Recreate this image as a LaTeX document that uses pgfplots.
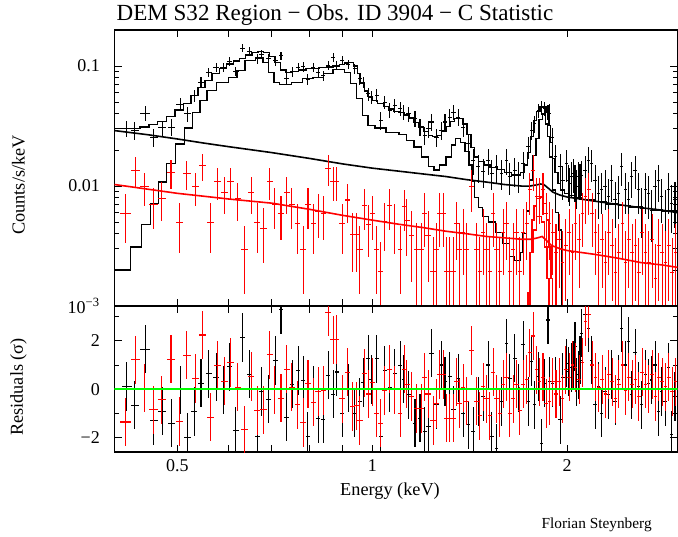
\documentclass[border=0pt]{standalone}
\usepackage{pgfplots}
\pgfplotsset{compat=1.18}
\usepackage{pgfplotstable}
\usepackage{fontspec}
\setmainfont{Liberation Serif}
\definecolor{resgreen}{RGB}{0,255,0}

\pgfplotstableread{
E dE V e R
0.418 0.0075 0.0303 0.0048 0.11
0.430 0.0065 0.0292 0.0050 -0.66
0.446 0.0075 0.0406 0.0055 1.65
0.460 0.0065 0.0256 0.0045 -1.31
0.474 0.0065 0.0307 0.0045 -0.91
0.490 0.0065 0.0310 0.0050 -1.41
0.505 0.0065 0.0480 0.0060 -0.03
0.519 0.0060 0.0400 0.0060 -2.00
0.531 0.0060 0.0570 0.0065 -0.92
0.544 0.0060 0.0734 0.0075 0.25
0.559 0.0060 0.0890 0.0080 0.63
0.574 0.0060 0.0970 0.0085 0.49
0.589 0.0060 0.0980 0.0085 -0.03
0.602 0.0060 0.1100 0.0090 0.92
0.616 0.0060 0.0906 0.0085 -1.72
0.630 0.0060 0.1410 0.0110 2.13
0.647 0.0060 0.1330 0.0105 0.62
0.665 0.0060 0.1150 0.0100 -1.96
0.675 0.0060 0.1260 0.0100 -0.10
0.691 0.0060 0.1150 0.0100 -0.41
0.709 0.0060 0.1110 0.0100 1.18
0.723 0.0060 0.1220 0.0100 3.28
0.738 0.0060 0.0783 0.0085 -1.16
0.752 0.0060 0.0900 0.0090 0.20
0.769 0.0060 0.0977 0.0090 0.77
0.782 0.0060 0.0990 0.0090 0.37
0.795 0.0060 0.0780 0.0085 -1.96
0.811 0.0060 0.0977 0.0090 -0.03
0.825 0.0060 0.0889 0.0085 -1.23
0.840 0.0060 0.0834 0.0085 -1.24
0.855 0.0060 0.1010 0.0090 0.58
0.871 0.0060 0.1180 0.0100 -0.21
0.881 0.0060 0.1010 0.0090 0.71
0.899 0.0060 0.1110 0.0095 -0.99
0.918 0.0060 0.1040 0.0090 0.04
0.940 0.0060 0.0948 0.0090 -0.99
0.957 0.0060 0.0783 0.0085 -0.52
0.968 0.0060 0.0734 0.0080 0.27
0.986 0.0070 0.0588 0.0075 1.25
0.997 0.0070 0.0551 0.0070 0.40
1.016 0.0070 0.0570 0.0070 1.25
1.031 0.0070 0.0353 0.0060 -1.96
1.046 0.0070 0.0501 0.0065 0.77
1.064 0.0070 0.0428 0.0060 0.05
1.084 0.0070 0.0470 0.0065 0.66
1.104 0.0070 0.0441 0.0060 0.98
1.117 0.0070 0.0414 0.0060 0.41
1.137 0.0100 0.0400 0.0060 -0.23
1.164 0.0100 0.0364 0.0055 -1.41
1.185 0.0100 0.0310 0.0050 -1.20
1.206 0.0100 0.0265 0.0045 -1.75
1.222 0.0100 0.0300 0.0050 -1.54
1.235 0.0100 0.0342 0.0055 1.49
1.257 0.0100 0.0256 0.0045 -0.65
1.280 0.0100 0.0291 0.0050 1.00
1.295 0.0100 0.0342 0.0055 0.32
1.318 0.0100 0.0376 0.0060 0.52
1.335 0.0100 0.0414 0.0060 -0.85
1.358 0.0100 0.0376 0.0060 0.45
1.382 0.0100 0.0310 0.0055 -0.99
1.407 0.0100 0.0226 0.0045 -1.47
1.432 0.0100 0.0164 0.0040 -1.75
1.458 0.0100 0.0145 0.0038 -0.51
1.484 0.0100 0.0132 0.0036 -0.30
1.510 0.0100 0.0164 0.0040 1.00
1.530 0.0100 0.0128 0.0036 -1.96
1.556 0.0100 0.0145 0.0038 -2.44
1.584 0.0100 0.0128 0.0036 -0.51
1.612 0.0100 0.0164 0.0040 1.90
1.631 0.0100 0.0120 0.0035 0.45
1.660 0.0100 0.0136 0.0037 1.28
1.680 0.0100 0.0124 0.0036 0.04
1.710 0.0100 0.0154 0.0040 1.83
1.740 0.0100 0.0212 0.0045 -0.51
1.760 0.0100 0.0291 0.0050 1.14
1.783 0.0100 0.0331 0.0055 -0.65
1.806 0.0100 0.0427 0.0060 0.52
1.826 0.0100 0.0455 0.0060 -2.23
1.847 0.0100 0.0441 0.0060 0.25
1.868 0.0100 0.0414 0.0060 2.86
1.881 0.0100 0.0400 0.0080 0.32
1.900 0.0100 0.0256 0.0050 0.25
1.920 0.0100 0.0175 0.0045 0.32
1.950 0.0110 0.0145 0.0040 -1.27
1.970 0.0110 0.0112 0.0035 0.50
1.996 0.0120 0.0154 0.0045 1.07
2.008 0.0120 0.0112 0.0038 0.73
2.018 0.0120 0.0105 0.0037 0.50
2.032 0.0120 0.0120 0.0040 0.90
2.044 0.0120 0.0128 0.0040 1.00
2.056 0.0120 0.0112 0.0038 1.76
2.068 0.0120 0.0100 0.0036 0.30
2.081 0.0120 0.0120 0.0040 0.59
2.093 0.0120 0.0115 0.0039 1.20
2.106 0.0130 0.0123 0.0040 2.31
2.131 0.0130 0.0136 0.0042 3.07
2.156 0.0130 0.0164 0.0046 2.52
2.182 0.0130 0.0154 0.0045 1.20
2.208 0.0130 0.0112 0.0038 -0.65
2.234 0.0130 0.0087 0.0034 0.11
2.261 0.0130 0.0093 0.0035 -0.99
2.288 0.0130 0.0099 0.0036 -0.10
2.315 0.0140 0.0082 0.0033 -0.23
2.343 0.0140 0.0112 0.0038 0.60
2.371 0.0140 0.0077 0.0032 -0.50
2.399 0.0140 0.0087 0.0034 0.40
2.428 0.0140 0.0145 0.0044 2.52
2.457 0.0140 0.0093 0.0035 1.00
2.486 0.0140 0.0077 0.0032 1.97
2.516 0.0150 0.0120 0.0040 -0.23
2.546 0.0150 0.0136 0.0042 1.50
2.576 0.0150 0.0093 0.0035 0.11
2.607 0.0150 0.0067 0.0030 -0.65
2.638 0.0150 0.0093 0.0035 0.60
2.669 0.0150 0.0087 0.0034 0.25
2.701 0.0160 0.0063 0.0029 0.38
2.733 0.0160 0.0099 0.0036 1.00
2.766 0.0160 0.0112 0.0038 -0.92
2.799 0.0160 0.0082 0.0033 -0.10
2.832 0.0160 0.0063 0.0029 -0.51
2.866 0.0160 0.0093 0.0035 0.90
2.900 0.0170 0.0072 0.0031 -1.89
2.934 0.0170 0.0077 0.0032 -0.30
}\blackdata

\pgfplotstableread{
E dE V e R
0.416 0.0075 0.00593 0.0026 -1.36
0.431 0.0075 0.0136 0.0038 1.21
0.445 0.0075 0.00987 0.0031 0.04
0.460 0.0070 0.00697 0.0026 -0.85
0.4735 0.0070 0.00791 0.0028 -0.44
0.489 0.0070 0.0129 0.0035 1.24
0.504 0.0070 0.00497 0.0022 -1.34
0.5175 0.0070 0.0128 0.0035 1.40
0.533 0.0070 0.00987 0.0031 0.44
0.547 0.0070 0.0148 0.0038 2.24
0.562 0.0070 0.00497 0.0022 -1.16
0.577 0.0070 0.0109 0.0032 0.98
0.591 0.0070 0.0088 0.0030 0.33
0.604 0.0070 0.0109 0.0032 1.10
0.620 0.0070 0.0079 0.0028 0.08
0.635 0.0070 0.00295 0.0017 -1.68
0.650 0.0070 0.0088 0.0030 0.52
0.665 0.0070 0.00497 0.0022 -0.88
0.680 0.0080 0.0044 0.0021 -0.85
0.695 0.0080 0.0109 0.0032 1.42
0.7075 0.0080 0.00696 0.0026 -0.03
0.723 0.0080 0.00593 0.0024 -0.37
0.738 0.0080 0.00886 0.0030 0.83
0.751 0.0080 0.00696 0.0026 0.08
0.767 0.0080 0.0049 0.0022 -0.65
0.782 0.0080 0.00295 0.0017 -1.38
0.796 0.0080 0.00696 0.0026 0.22
0.811 0.0080 0.0049 0.0022 -0.54
0.825 0.0080 0.00612 0.0024 -0.10
0.840 0.0080 0.00593 0.0024 -0.06
0.855 0.0090 0.01406 0.0040 3.19
0.871 0.0090 0.0109 0.0034 2.04
0.881 0.0090 0.0109 0.0034 2.06
0.899 0.0090 0.0049 0.0022 -0.40
0.916 0.0090 0.00765 0.0027 0.70
0.933 0.0090 0.00393 0.0020 -0.72
0.946 0.0090 0.00393 0.0020 -0.69
0.957 0.0090 0.00295 0.0017 -1.30
0.972 0.0090 0.00687 0.0026 0.66
0.986 0.0090 0.00475 0.0022 -0.20
1.000 0.0090 0.00593 0.0024 0.29
1.016 0.0090 0.00295 0.0017 -0.99
1.031 0.0090 0.00194 0.0015 -1.41
1.044 0.0090 0.00506 0.0022 -0.06
1.062 0.0090 0.00687 0.0026 0.83
1.081 0.0090 0.0049 0.0022 -0.03
1.104 0.0090 0.00295 0.0017 -1.00
1.120 0.0090 0.00673 0.0025 0.83
1.130 0.0120 0.0052 0.0026 0.20
1.150 0.0120 0.0039 0.0023 -0.30
1.171 0.0120 0.00295 0.0020 -0.80
1.191 0.0120 0.00295 0.0020 -0.80
1.205 0.0120 0.0059 0.0028 0.50
1.220 0.0120 0.0039 0.0023 -0.20
1.242 0.0120 0.00194 0.0018 -1.30
1.257 0.0120 0.00295 0.0020 -0.60
1.272 0.0120 0.0059 0.0028 0.60
1.287 0.0120 0.0059 0.0028 0.60
1.302 0.0120 0.00194 0.0018 -1.20
1.318 0.0120 0.00194 0.0018 -1.20
1.333 0.0120 0.00194 0.0018 -1.20
1.349 0.0120 0.0049 0.0025 0.30
1.365 0.0120 0.00295 0.0020 -0.60
1.381 0.0120 0.0041 0.0023 0.05
1.398 0.0120 0.00295 0.0020 -0.50
1.423 0.0120 0.0099 0.0038 1.60
1.448 0.0120 0.00295 0.0020 -0.50
1.466 0.0120 0.00194 0.0018 -1.10
1.483 0.0120 0.0041 0.0023 0.10
1.501 0.0120 0.00295 0.0020 -0.40
1.519 0.0120 0.00194 0.0018 -1.10
1.537 0.0120 0.0059 0.0028 0.70
1.556 0.0120 0.00295 0.0020 -0.40
1.574 0.0120 0.00194 0.0018 -1.00
1.593 0.0120 0.0041 0.0023 0.20
1.612 0.0120 0.0049 0.0025 0.50
1.631 0.0120 0.00194 0.0018 -1.00
1.651 0.0120 0.00295 0.0020 -0.40
1.670 0.0120 0.0041 0.0023 0.20
1.690 0.0120 0.00194 0.0018 -0.90
1.710 0.0120 0.0041 0.0023 0.20
1.731 0.0120 0.0049 0.0025 0.40
1.751 0.0120 0.0093 0.0036 1.50
1.772 0.0120 0.0136 0.0045 2.20
1.793 0.0120 0.0082 0.0034 0.80
1.813 0.0120 0.0082 0.0034 0.30
1.835 0.0120 0.0093 0.0036 0.50
1.856 0.0120 0.0059 0.0028 -0.60
1.878 0.0120 0.0049 0.0025 -0.50
1.900 0.0120 0.0041 0.0023 0.30
1.922 0.0120 0.0028 0.0020 -0.20
1.944 0.0130 0.0036 0.0022 0.30
1.967 0.0130 0.0023 0.0019 -0.40
1.990 0.0130 0.0032 0.0021 0.80
2.013 0.0130 0.0041 0.0023 0.50
2.037 0.0130 0.0028 0.0020 1.00
2.061 0.0130 0.0049 0.0025 0.90
2.086 0.0130 0.0036 0.0022 0.40
2.110 0.0130 0.0059 0.0028 1.10
2.135 0.0140 0.0082 0.0034 2.80
2.160 0.0140 0.0093 0.0036 3.10
2.186 0.0140 0.0059 0.0028 1.00
2.212 0.0140 0.0041 0.0023 0.50
2.238 0.0140 0.0028 0.0020 0.05
2.265 0.0140 0.0036 0.0022 0.40
2.292 0.0140 0.0023 0.0019 -0.20
2.319 0.0150 0.0041 0.0023 0.60
2.347 0.0150 0.0032 0.0021 0.30
2.375 0.0150 0.0019 0.0018 -0.40
2.403 0.0150 0.0028 0.0020 0.20
2.432 0.0150 0.0049 0.0025 1.00
2.461 0.0150 0.0023 0.0019 -0.05
2.490 0.0160 0.0036 0.0022 0.50
2.520 0.0160 0.0028 0.0020 0.20
2.550 0.0160 0.0032 0.0021 0.40
2.580 0.0160 0.0019 0.0018 -0.30
2.611 0.0170 0.0041 0.0023 0.70
2.642 0.0170 0.0028 0.0020 0.20
2.673 0.0170 0.0023 0.0019 0.00
2.705 0.0170 0.0036 0.0022 0.60
2.737 0.0170 0.0017 0.0016 -0.30
2.770 0.0180 0.0032 0.0021 0.50
2.803 0.0180 0.0028 0.0020 0.30
2.836 0.0180 0.0023 0.0019 0.10
2.870 0.0180 0.0032 0.0021 0.50
2.904 0.0180 0.0019 0.0018 -0.10
2.939 0.0180 0.0028 0.0020 0.30
}\reddata

\pgfplotstableread{
E V
0.400 0.0300
0.422 0.0300
0.438 0.0310
0.452 0.0325
0.466 0.0345
0.481 0.0380
0.496 0.0430
0.511 0.0490
0.525 0.0570
0.538 0.0660
0.552 0.0760
0.566 0.0870
0.581 0.0960
0.596 0.1040
0.610 0.1100
0.624 0.1160
0.638 0.1240
0.652 0.1300
0.666 0.1330
0.680 0.1300
0.694 0.1210
0.708 0.1070
0.722 0.0930
0.736 0.0880
0.752 0.0900
0.770 0.0930
0.790 0.0950
0.810 0.0960
0.830 0.0970
0.850 0.0980
0.870 0.1000
0.890 0.1030
0.905 0.1060
0.920 0.1070
0.935 0.1000
0.948 0.0870
0.960 0.0720
0.972 0.0620
0.985 0.0560
1.000 0.0520
1.020 0.0490
1.040 0.0460
1.060 0.0440
1.080 0.0420
1.100 0.0410
1.120 0.0390
1.140 0.0370
1.160 0.0340
1.180 0.0310
1.200 0.0285
1.220 0.0265
1.240 0.0258
1.260 0.0265
1.280 0.0285
1.300 0.0315
1.320 0.0345
1.340 0.0365
1.360 0.0365
1.380 0.0330
1.400 0.0270
1.420 0.0210
1.440 0.0175
1.460 0.0160
1.490 0.0150
1.520 0.0143
1.560 0.0137
1.600 0.0130
1.640 0.0124
1.670 0.0123
1.695 0.0130
1.715 0.0150
1.735 0.0190
1.755 0.0260
1.775 0.0350
1.795 0.0420
1.815 0.0455
1.835 0.0455
1.855 0.0410
1.870 0.0320
1.885 0.0230
1.900 0.0170
1.915 0.0130
1.935 0.0105
1.955 0.0093
1.980 0.0087
2.010 0.0083
2.050 0.0080
2.100 0.0077
2.200 0.0074
2.300 0.0071
2.400 0.0069
2.500 0.0067
2.600 0.0065
2.700 0.0063
2.800 0.0062
2.960 0.0060
}\modelA

\pgfplotstableread{
E V
0.400 0.0020
0.423 0.0031
0.440 0.0048
0.455 0.0072
0.468 0.0108
0.481 0.0155
0.497 0.0224
0.513 0.0304
0.528 0.0410
0.542 0.0520
0.556 0.0627
0.575 0.0730
0.600 0.0800
0.618 0.0920
0.636 0.1110
0.660 0.1170
0.678 0.1070
0.692 0.0880
0.705 0.0730
0.720 0.0705
0.750 0.0730
0.780 0.0790
0.810 0.0800
0.840 0.0866
0.870 0.0935
0.890 0.0935
0.905 0.0880
0.925 0.0717
0.945 0.0537
0.965 0.0389
0.985 0.0321
1.010 0.0304
1.050 0.0280
1.100 0.0270
1.130 0.0240
1.160 0.0212
1.190 0.0175
1.220 0.0145
1.245 0.0136
1.270 0.0150
1.300 0.0175
1.325 0.0220
1.345 0.0249
1.370 0.0230
1.390 0.0193
1.410 0.0150
1.425 0.0110
1.440 0.0080
1.460 0.0066
1.480 0.0056
1.510 0.0050
1.550 0.0041
1.590 0.0033
1.630 0.0026
1.660 0.0024
1.690 0.0028
1.710 0.0040
1.730 0.0062
1.750 0.0112
1.770 0.0180
1.790 0.0249
1.810 0.0360
1.830 0.0400
1.850 0.0330
1.865 0.0260
1.880 0.0175
1.900 0.0093
1.920 0.0060
1.940 0.0043
1.960 0.0001
2.960 0.0001
}\modelB

\pgfplotstableread{
E V
0.400 0.0290
0.450 0.0268
0.500 0.0247
0.550 0.0228
0.600 0.0213
0.700 0.0190
0.800 0.0170
0.900 0.0153
1.000 0.0141
1.100 0.0133
1.200 0.0126
1.300 0.0120
1.400 0.0113
1.500 0.0108
1.600 0.0103
1.700 0.0100
1.750 0.0100
1.790 0.0102
1.820 0.0104
1.840 0.0103
1.870 0.0096
1.900 0.0089
1.950 0.0084
2.000 0.0081
2.200 0.0075
2.400 0.0070
2.600 0.0066
2.800 0.0063
2.960 0.0060
}\bgblack

\pgfplotstableread{
E V
0.400 0.0103
0.500 0.0087
0.600 0.0078
0.700 0.0072
0.800 0.0064
0.900 0.0057
1.000 0.0052
1.100 0.0048
1.200 0.0045
1.300 0.0042
1.400 0.0040
1.500 0.0038
1.600 0.0037
1.700 0.0036
1.760 0.0036
1.800 0.0037
1.830 0.0038
1.860 0.0035
1.890 0.0032
1.950 0.0030
2.000 0.0029
2.200 0.0027
2.400 0.0025
2.600 0.0023
2.800 0.0022
2.960 0.0021
}\bgred

\pgfplotstableread{
E V
1.700 0.0001
1.740 0.0013
1.752 0.0028
1.765 0.0052
1.778 0.0068
1.792 0.0079
1.815 0.0081
1.838 0.0072
1.856 0.0052
1.875 0.0031
1.888 0.0017
1.900 0.0001
2.960 0.0001
}\redstepA

\pgfplotstableread{
E V
1.700 0.0001
1.745 0.0010
1.752 0.0028
1.776 0.0043
1.795 0.0056
1.825 0.0050
1.843 0.0031
1.862 0.0017
1.875 0.0001
2.960 0.0001
}\redstepB

\pgfplotsset{
  databars/.style={only marks,
    mark options={draw opacity=0, fill opacity=0},
    error bars/.cd, x dir=both, x explicit, y dir=both, y explicit,
    error mark=none, error bar style={line width=0.8pt, draw opacity=1}},
}

\begin{document}
\begin{tikzpicture}
\path[use as bounding box] (0pt,0pt) rectangle (508.5pt,402pt);

\begin{axis}[
  scale only axis, width=422.25pt, height=207pt,
  at={(85.875pt,172.5pt)}, anchor=south west,
  xmode=log, xmin=0.4, xmax=2.96,
  ymode=log, ymin=0.001, ymax=0.2,
  axis line style={line width=0.8pt},
  tick style={line width=0.6pt, black},
  major tick length=5.5pt, minor tick length=3.2pt,
  tick align=inside,
  xtick pos=both, ytick pos=both,
  xtick={0.4,0.5,0.6,0.7,0.8,0.9,1,2,3},
  xticklabels={,,,,,,,,},
  ytick={0.001,0.01,0.1},
  yticklabels={10\textsuperscript{−3},0.01,0.1},
  minor ytick={0.002,0.003,0.004,0.005,0.006,0.007,0.008,0.009,0.02,0.03,0.04,0.05,0.06,0.07,0.08,0.09,0.2},
  /pgf/number format/assume math mode=true,
  ticklabel style={font=\fontsize{13.5}{15}\selectfont},
  yticklabel style={xshift=-7.5pt},
  clip=true,
]
\addplot[black, databars] table[x=E, y=V, x error=dE, y error=e] {\blackdata};
\addplot[black, line width=1pt, const plot] table[x=E, y=V] {\modelA};
\addplot[black, line width=1pt, const plot] table[x=E, y=V] {\modelB};
\addplot[black, line width=1.2pt] table[x=E, y=V] {\bgblack};
\addplot[red, databars] table[x=E, y=V, x error=dE, y error=e] {\reddata};
\addplot[red, line width=1.2pt] table[x=E, y=V] {\bgred};
\addplot[red, line width=1pt, const plot] table[x=E, y=V] {\redstepA};
\addplot[red, line width=1pt, const plot] table[x=E, y=V] {\redstepB};
\end{axis}

\begin{axis}[
  scale only axis, width=422.25pt, height=109.5pt,
  at={(85.875pt,63pt)}, anchor=south west,
  xmode=log, xmin=0.4, xmax=2.96,
  ymin=-2.6, ymax=3.44,
  axis line style={line width=0.8pt},
  tick style={line width=0.6pt, black},
  major tick length=5.5pt, minor tick length=3.2pt,
  tick align=inside,
  xtick pos=both, ytick pos=both,
  xtick={0.4,0.5,0.6,0.7,0.8,0.9,1,2,3},
  xticklabels={,0.5,,,,,1,2,},
  ytick={-2,0,2}, yticklabels={−2,0,2},
  minor ytick={-1,1,3},
  /pgf/number format/assume math mode=true,
  ticklabel style={font=\fontsize{13.5}{15}\selectfont},
  yticklabel style={xshift=-7.5pt},
  xticklabel style={yshift=-2pt},
  clip=true,
]
\addplot[black, databars] table[x=E, y=R, x error=dE, y error expr=1] {\blackdata};
\addplot[red, databars] table[x=E, y=R, x error=dE, y error expr=1] {\reddata};
\addplot[draw=resgreen, line width=1.2pt] coordinates {(0.4,0) (2.96,0)};
\end{axis}

\node[anchor=base, font=\fontsize{17.3}{20}\selectfont] at (251.25pt,386.6pt) {DEM S32 Region − Obs. ID 3904 − C Statistic};
\node[rotate=90, font=\fontsize{13.7}{16}\selectfont] at (13.9pt,263.25pt) {Counts/s/keV};
\node[rotate=90, font=\fontsize{13.7}{16}\selectfont] at (13.9pt,111.75pt) {Residuals (σ)};
\node[anchor=base, font=\fontsize{13.7}{16}\selectfont] at (292.5pt,30.75pt) {Energy (keV)};
\node[anchor=base, font=\fontsize{11.5}{13}\selectfont] at (447.5pt,6pt) {Florian Steynberg};
\end{tikzpicture}
\end{document}
